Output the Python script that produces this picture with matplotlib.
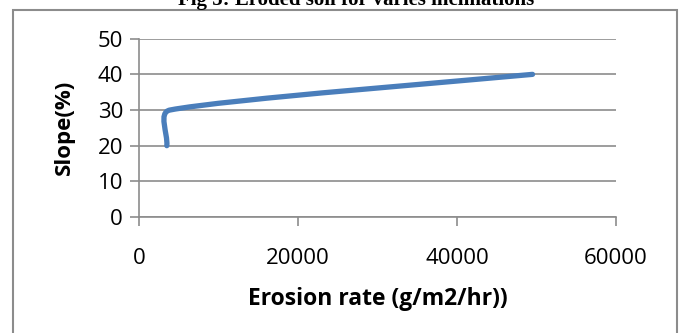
import numpy as np
import matplotlib.pyplot as plt
from matplotlib.path import Path
from matplotlib.patches import PathPatch, Rectangle

# values
erosion_rate = [3500, 3900, 49500]
slope = [20, 30, 40]
x_ticks = [0, 20000, 40000, 60000]
y_ticks = [0, 10, 20, 30, 40, 50]

line_color = "#4a7ebb"
grid_color = "#8c8c8c"


def smooth_path(ax, xs, ys, k=(0.35, 0.15)):
    # excel-like smoothed line: bezier segments built in screen space
    pts = ax.transData.transform(np.column_stack([xs, ys]))
    n = len(pts)
    tang = []
    for i in range(n):
        d = pts[min(i + 1, n - 1)] - pts[max(i - 1, 0)]
        tang.append(d / np.hypot(*d))
    verts = [pts[0]]
    codes = [Path.MOVETO]
    for i in range(n - 1):
        seg = np.hypot(*(pts[i + 1] - pts[i]))
        verts += [pts[i] + tang[i] * seg * k[i], pts[i + 1] - tang[i + 1] * seg * k[i], pts[i + 1]]
        codes += [Path.CURVE4] * 3
    verts = ax.transData.inverted().transform(np.array(verts))
    return Path(verts, codes)


plt.rcParams['font.family'] = ['Open Sans', 'DejaVu Sans']

fig = plt.figure(figsize=(6.82, 3.33), dpi=100)
fig.patches.append(Rectangle((13 / 682, -0.1), (677 - 13) / 682, 1.1 - 10 / 333,
                             transform=fig.transFigure, fill=False,
                             edgecolor="#8c8c8c", lw=1.5))
fig.text(356 / 682, 1 - 5 / 333, "Fig 5: Eroded soil for varies inclinations",
         ha="center", va="baseline", fontsize=15, fontweight="bold",
         family="Liberation Serif")

ax = fig.add_axes([139 / 682, 1 - 217 / 333, (616 - 139) / 682, (217 - 38.7) / 333])
ax.set_xlim(0, 60000)
ax.set_ylim(0, 50)
ax.set_xticks(x_ticks)
ax.set_yticks(y_ticks)
ax.set_xticklabels([str(v) for v in x_ticks])
ax.set_yticklabels([str(v) for v in y_ticks])
ax.grid(axis="y", color=grid_color, lw=1.2)
ax.set_axisbelow(True)
for s in ["top", "right"]:
    ax.spines[s].set_visible(False)
for s in ["left", "bottom"]:
    ax.spines[s].set_color(grid_color)
    ax.spines[s].set_linewidth(1.2)
ax.tick_params(axis="both", color=grid_color, length=6.5, width=1.2, labelsize=16)
ax.tick_params(axis="x", pad=16)
ax.tick_params(axis="y", pad=5)

ax.add_patch(PathPatch(smooth_path(ax, erosion_rate, slope), fill=False,
                       edgecolor=line_color, lw=3.8, capstyle="round", zorder=3))

ax.set_xlabel("Erosion rate (g/m2/hr))", fontsize=16.5, fontweight="bold", labelpad=13)
ax.set_ylabel("Slope(%)", fontsize=16, fontweight="bold", labelpad=16)

fig.savefig("out.png", dpi=100)
